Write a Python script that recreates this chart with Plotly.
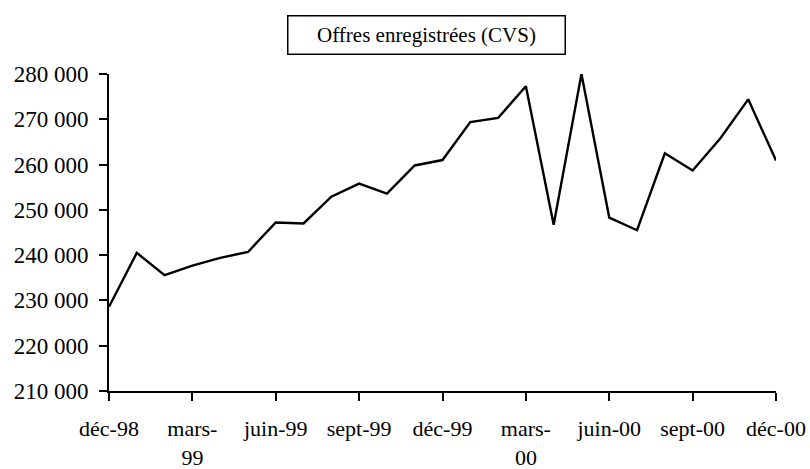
import plotly.graph_objects as go

# monthly series, déc-98 .. déc-00
months = ["déc-98", "janv-99", "févr-99", "mars-99", "avr-99", "mai-99", "juin-99",
          "juil-99", "août-99", "sept-99", "oct-99", "nov-99", "déc-99",
          "janv-00", "févr-00", "mars-00", "avr-00", "mai-00", "juin-00",
          "juil-00", "août-00", "sept-00", "oct-00", "nov-00", "déc-00"]
offres = [228600, 240500, 235600, 237700, 239400, 240700, 247200,
          247000, 252900, 255800, 253600, 259800, 261000,
          269400, 270300, 277300, 246700, 280000, 248300,
          245500, 262500, 258700, 265800, 274400, 260900]

x_ticks = ["déc-98", "mars-99", "juin-99", "sept-99", "déc-99",
           "mars-00", "juin-00", "sept-00", "déc-00"]
x_labels = ["déc-98", "mars-<br>99", "juin-99", "sept-99", "déc-99",
            "mars-<br>00", "juin-00", "sept-00", "déc-00"]
y_ticks = [210000, 220000, 230000, 240000, 250000, 260000, 270000, 280000]
y_labels = ["210\u00a0000", "220\u00a0000", "230\u00a0000", "240\u00a0000",
            "250\u00a0000", "260\u00a0000", "270\u00a0000", "280\u00a0000"]

title = "Offres enregistrées (CVS)"

fig = go.Figure()
fig.add_trace(go.Scatter(x=months, y=offres, mode="lines",
                         line=dict(color="black", width=2.4),
                         showlegend=False, hoverinfo="x+y"))

fig.update_layout(
    width=810, height=469,
    paper_bgcolor="white", plot_bgcolor="white",
    margin=dict(l=109, r=34, t=74, b=78),
    font=dict(family="Liberation Serif, Times New Roman, serif", size=21, color="black"),
    xaxis=dict(type="category", range=[0, len(months) - 1],
               tickmode="array", tickvals=x_ticks, ticktext=x_labels,
               tickfont=dict(size=22),
               showline=True, linecolor="black", linewidth=2,
               ticks="outside", ticklen=8, tickwidth=2, tickcolor="black",
               ticklabelstandoff=9,
               showgrid=False, zeroline=False, automargin=False),
    yaxis=dict(range=[210000, 280000],
               tickmode="array", tickvals=y_ticks, ticktext=y_labels,
               tickfont=dict(size=23),
               showline=True, linecolor="black", linewidth=2,
               ticks="outside", ticklen=8, tickwidth=2, tickcolor="black",
               ticklabelstandoff=6,
               showgrid=False, zeroline=False, automargin=False),
    annotations=[dict(text=title, xref="paper", yref="paper",
                      x=0.476, y=1.123, xanchor="center", yanchor="middle",
                      showarrow=False, width=276, height=37,
                      bordercolor="black", borderwidth=1.5, borderpad=0,
                      bgcolor="white", font=dict(size=21))],
)

# drop the page's default body margin so the figure fills the window exactly
fig.write_html("out.html",
               config={"displayModeBar": False},
               post_script="document.body.style.margin='0';"
                           "document.body.style.overflow='hidden';")
